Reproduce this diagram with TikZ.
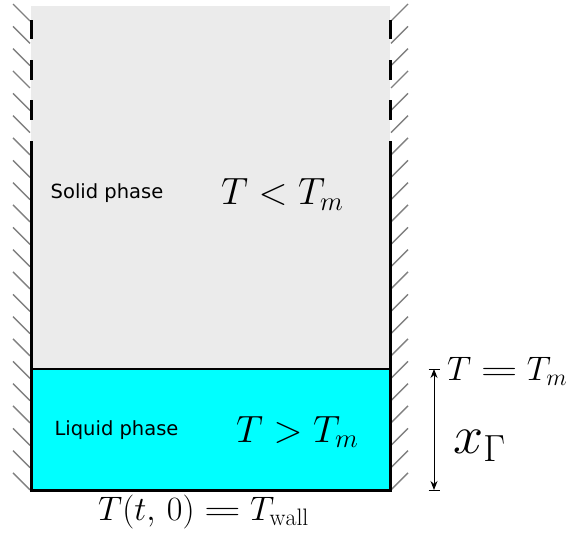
\RequirePackage{fix-cm}
\documentclass[tikz,border=0pt]{standalone}
\usepackage{fontspec}
\setsansfont{DejaVu Sans}
\usetikzlibrary{arrows.meta}
\definecolor{solidgray}{HTML}{EBEBEB}
\definecolor{liquid}{HTML}{00FFFF}
\definecolor{hatchgray}{HTML}{808080}
\newcommand\wideeq{\mathrel{\scalebox{1.5}[1]{$=$}}}
\begin{document}
\begin{tikzpicture}[x=1pt,y=-1pt,
  hatch/.style={draw=hatchgray,line width=1.4pt},
  wall/.style={draw=black,line width=3pt},
  iface/.style={draw=black,line width=2pt},
  phaselbl/.style={font=\sffamily\fontsize{19.5}{22}\selectfont,inner sep=0pt},
  bigmath/.style={font=\fontsize{38}{42}\selectfont,inner sep=0pt,anchor=base west},
  midmath/.style={font=\fontsize{34}{37}\selectfont,inner sep=0pt,anchor=base west},
  dimline/.style={draw=black,line width=1pt,{Stealth[length=9pt,width=7pt]}-{Stealth[length=9pt,width=7pt]}},
  tick/.style={draw=black,line width=1pt}]
\useasboundingbox (0,0) rectangle (570,541);
% regions
\coordinate (tl) at (31,6);
\coordinate (tr) at (390,6);
\coordinate (il) at (31,369);
\coordinate (ir) at (390,369);
\coordinate (bl) at (31,490);
\coordinate (br) at (390,490);
\fill[solidgray] (tl) rectangle (ir);
\fill[liquid] (il) rectangle (br);
% hatching
\foreach \k in {0,...,21}{
  \draw[hatch] (13,4+22.33*\k) -- ++(17,17);
  \draw[hatch] (391,21+22.33*\k) -- ++(17,-17);
}
% walls
\draw[wall] (31,141) -- (bl) -- (br) -- (390,141);
\foreach \a/\b in {20/39,60/80,100/120}{
  \draw[wall] (31,\a) -- (31,\b);
  \draw[wall] (390,\a) -- (390,\b);
}
\draw[iface] (il) -- (ir);
% dimension
\coordinate (dt) at (434,369);
\coordinate (db) at (434,490);
\draw[dimline] (dt) -- (db);
\draw[tick] ([xshift=-5.5pt]dt) -- ([xshift=5.5pt]dt);
\draw[tick] ([xshift=-5.5pt]db) -- ([xshift=5.5pt]db);
% labels
\node[phaselbl] (solid) at (107,193) {Solid phase};
\node[phaselbl] (liq) at (116.5,430) {Liquid phase};
\node[bigmath] (tlt) at (221,204.3) {$T<T_m$};
\node[bigmath] (tgt) at (236,442) {$T>T_m$};
\node[midmath] (teq) at (447,380) {$T\wideeq T_m$};
\node[font=\fontsize{54}{58}\selectfont,inner sep=0pt,anchor=base west] (xg) at (453,453) {$x_\Gamma$};
\node[midmath] (tw) at (98,520) {$T(t,\mskip3mu 0)\wideeq T_{\mathrm{wall}}$};
\end{tikzpicture}
\end{document}
